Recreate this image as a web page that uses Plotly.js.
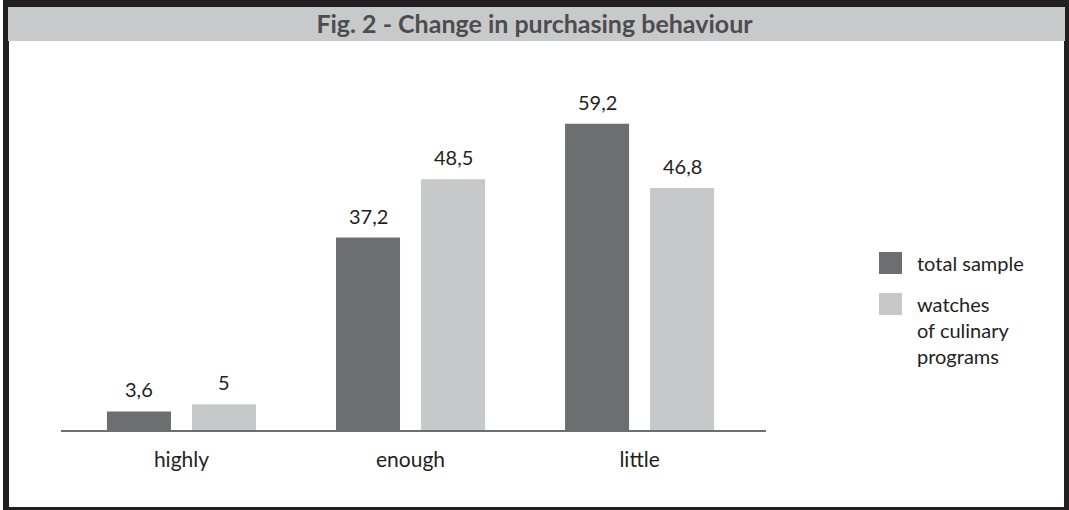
<!DOCTYPE html>
<html>
<head>
<meta charset="utf-8">
<script src="https://cdn.plot.ly/plotly-3.0.1.min.js"></script>
<style>
html,body{margin:0;padding:0;background:#fff;}
#chart{width:1069px;height:510px;}
</style>
</head>
<body>
<div id="chart"></div>
<script>
var categories = ["highly", "enough", "little"];
var totalSample = [3.6, 37.2, 59.2];
var watchesCulinary = [5, 48.5, 46.8];
var seriesNames = ["total sample", "watches of culinary programs"];
var legendLines = [["total sample"], ["watches", "of culinary", "programs"]];
var titleText = "Fig. 2 - Change in purchasing behaviour";

var W = 1069, H = 510;
var ml = 61, mr = 303, mt = 68, mb = 80;
var pw = W - ml - mr, ph = H - mt - mb;
function px(x){ return (x - ml) / pw; }
function py(y){ return (H - mb - y) / ph; }

var darkC = "#6d6e70", lightC = "#c7c8c9", textC = "#231f20";
var fontFam = "Lato, 'Open Sans', sans-serif";

function fmt(v){ return String(v).replace(".", ","); }

var traces = [
  {type:"bar", name:seriesNames[0], x:categories, y:totalSample, marker:{color:darkC}, hoverinfo:"none"},
  {type:"bar", name:seriesNames[1], x:categories, y:watchesCulinary, marker:{color:lightC}, hoverinfo:"none"}
];

var annotations = [];
[totalSample, watchesCulinary].forEach(function(arr, si){
  arr.forEach(function(v, i){
    annotations.push({
      x: categories[i], y: v, xref:"x", yref:"y",
      xshift: si === 0 ? -42.5 : 42.5, yshift: 8,
      yanchor:"bottom", xanchor:"center", showarrow:false,
      text: fmt(v), font:{family:fontFam, size:20, color:textC}
    });
  });
});

var shapes = [
  {type:"rect", xref:"paper", yref:"paper", x0:px(3), x1:px(1069), y0:py(0), y1:py(510), fillcolor:"#231f20", line:{width:0}, layer:"below"},
  {type:"rect", xref:"paper", yref:"paper", x0:px(9), x1:px(1064), y0:py(7), y1:py(507), fillcolor:"#ffffff", line:{width:0}, layer:"below"},
  {type:"rect", xref:"paper", yref:"paper", x0:px(8), x1:px(1065), y0:py(7), y1:py(41), fillcolor:"#c8c9ca", line:{width:0}, layer:"below"}
];
var legColors = [darkC, lightC];
var legTops = [252, 293];
legendLines.forEach(function(lines, li){
  var top = legTops[li];
  shapes.push({type:"rect", xref:"paper", yref:"paper", x0:px(879), x1:px(902), y0:py(top), y1:py(top+22), fillcolor:legColors[li], line:{width:0}});
  annotations.push({
    xref:"paper", yref:"paper", x:px(915), y:py(top - 3),
    xanchor:"left", yanchor:"top", align:"left", showarrow:false,
    text:lines.join("<br>"), font:{family:fontFam, size:20, color:textC}
  });
});

var layout = {
  width: W, height: H,
  margin:{l:ml, r:mr, t:mt, b:mb, pad:0},
  paper_bgcolor:"#ffffff", plot_bgcolor:"rgba(0,0,0,0)",
  showlegend:false,
  barmode:"group", bargap:0.2576, bargroupgap:0.247,
  title:{text:"<b>"+titleText+"</b>", x:0.5, xanchor:"center", y:1-24/H, yanchor:"middle", yref:"container",
         font:{family:fontFam, size:25, color:"#4d4d4f"}},
  xaxis:{type:"category", range:[-0.526, 2.552], showline:true, linecolor:darkC, linewidth:2,
         showgrid:false, zeroline:false, ticks:"", ticklabelstandoff:10,
         tickfont:{family:fontFam, size:21, color:textC}, fixedrange:true},
  yaxis:{range:[0,70], visible:false, showgrid:false, zeroline:false, fixedrange:true},
  shapes: shapes,
  annotations: annotations
};

Plotly.newPlot("chart", traces, layout, {displayModeBar:false, staticPlot:true});
</script>
</body>
</html>
